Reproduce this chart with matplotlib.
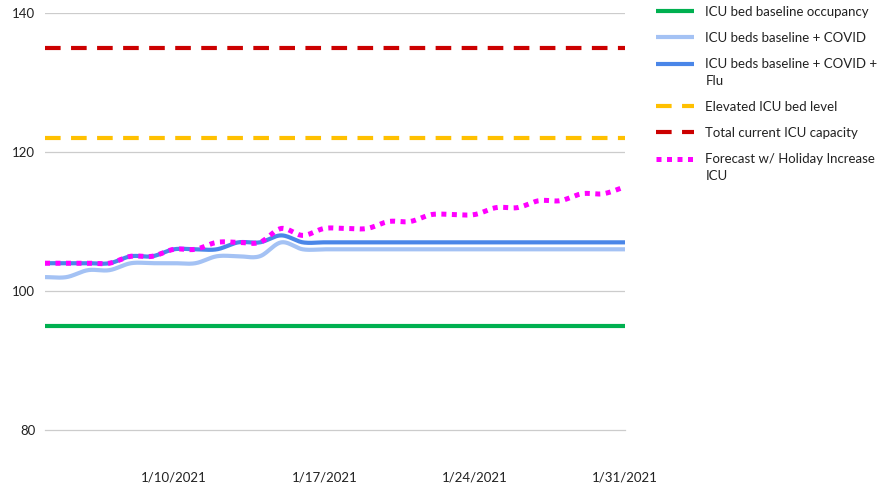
import numpy as np
import matplotlib
matplotlib.use("Agg")
import matplotlib.pyplot as plt
import matplotlib.dates as mdates
from matplotlib.legend_handler import HandlerLine2D
from datetime import date, timedelta

# ---- data ----
start = date(2021, 1, 4)
dates = [start + timedelta(days=i) for i in range(28)]  # 1/4 .. 1/31

baseline = [95] * 28
elevated = [122] * 28
capacity = [135] * 28
covid = [102, 102, 103, 103, 104, 104, 104, 104, 105, 105, 105, 107, 106, 106,
         106, 106, 106, 106, 106, 106, 106, 106, 106, 106, 106, 106, 106, 106]
covid_flu = [104, 104, 104, 104, 105, 105, 106, 106, 106, 107, 107, 108, 107, 107,
             107, 107, 107, 107, 107, 107, 107, 107, 107, 107, 107, 107, 107, 107]
forecast = [104, 104, 104, 104, 105, 105, 106, 106, 107, 107, 107, 109, 108, 109,
            109, 109, 110, 110, 111, 111, 111, 112, 112, 113, 113, 114, 114, 115]

y_ticks = [80, 100, 120, 140]
x_tick_labels = ["1/10/2021", "1/17/2021", "1/24/2021", "1/31/2021"]
x_tick_dates = [date(2021, 1, 10), date(2021, 1, 17), date(2021, 1, 24), date(2021, 1, 31)]

labels = ["ICU bed baseline occupancy", "ICU beds baseline + COVID",
          "ICU beds baseline + COVID +\nFlu", "Elevated ICU bed level",
          "Total current ICU capacity", "Forecast w/ Holiday Increase\nICU"]


def smooth(x, y, n=24):
    """Catmull-Rom style smoothing through the data points (like Excel smoothed lines)."""
    x = np.asarray(x, float); y = np.asarray(y, float)
    N = len(x)
    m = np.zeros(N)
    for k in range(N):
        a = max(k - 1, 0); b = min(k + 1, N - 1)
        m[k] = (y[b] - y[a]) / (x[b] - x[a])
    xs, ys = [], []
    for k in range(N - 1):
        h = x[k + 1] - x[k]
        t = np.linspace(0, 1, n, endpoint=False)
        h00 = 2*t**3 - 3*t**2 + 1; h10 = t**3 - 2*t**2 + t
        h01 = -2*t**3 + 3*t**2; h11 = t**3 - t**2
        xs.append(x[k] + t * h)
        ys.append(h00*y[k] + h10*h*m[k] + h01*y[k+1] + h11*h*m[k+1])
    xs.append([x[-1]]); ys.append([y[-1]])
    return np.concatenate(xs), np.concatenate(ys)


class FirstLineHandler(HandlerLine2D):
    """Place the legend handle beside the first line of a two-line label."""
    def __init__(self, shift, **kw):
        super().__init__(**kw)
        self.shift = shift

    def create_artists(self, legend, orig_handle, xdescent, ydescent, width,
                       height, fontsize, trans):
        arts = super().create_artists(legend, orig_handle, xdescent, ydescent,
                                      width, height, fontsize, trans)
        for a in arts:
            yd = np.asarray(a.get_ydata(), float)
            a.set_ydata(yd + self.shift)
        return arts


plt.rcParams['font.family'] = ['Lato', 'DejaVu Sans']

fig = plt.figure(figsize=(8.86, 4.87), dpi=100)
ax = fig.add_axes([45/886, 1 - 430/487, 580/886, 417/487])

xnum = mdates.date2num(dates)

l0, = ax.plot(dates, baseline, color="#00B050", lw=3, solid_capstyle="butt", label=labels[0])
xs, ys = smooth(xnum, covid)
l1, = ax.plot(xs, ys, color="#A4C2F4", lw=3, solid_capstyle="butt", label=labels[1])
xs, ys = smooth(xnum, covid_flu)
l2, = ax.plot(xs, ys, color="#4A86E8", lw=3, solid_capstyle="butt", label=labels[2])
l3, = ax.plot(dates, elevated, color="#FFC000", lw=3, linestyle=(0, (3.75, 2.5)),
              dash_capstyle="butt", label=labels[3])
l4, = ax.plot(dates, capacity, color="#CC0000", lw=3, linestyle=(0, (3.75, 2.5)),
              dash_capstyle="butt", label=labels[4])
xs, ys = smooth(xnum, forecast)
l5, = ax.plot(xs, ys, color="#FF00FF", lw=3.6, linestyle=(0, (1, 1.1)),
              dash_capstyle="butt", label=labels[5])

ax.set_xlim(xnum[0], xnum[-1])
ax.set_ylim(80, 140)
ax.set_yticks(y_ticks)
ax.set_xticks(mdates.date2num(x_tick_dates))
ax.set_xticklabels(x_tick_labels)
ax.grid(axis="y", color="#CCCCCC", lw=0.9)
ax.set_axisbelow(True)
for s in ax.spines.values():
    s.set_visible(False)
ax.tick_params(axis="both", length=0, labelsize=9.5, colors="#222222")
ax.tick_params(axis="y", pad=7)
ax.tick_params(axis="x", pad=30)
ax.yaxis.get_major_ticks()[0].gridline.set_clip_on(False)

hm = {l2: FirstLineHandler(6.5), l5: FirstLineHandler(6.5)}
leg = ax.legend(handles=[l0, l1, l2, l3, l4, l5], handler_map=hm,
                loc="upper left", bbox_to_anchor=(656/886, 1 - 6/487),
                bbox_transform=fig.transFigure, frameon=False, fontsize=9.5,
                handlelength=2.9, handletextpad=0.85, labelspacing=1.05,
                borderaxespad=0, borderpad=0)
for t in leg.get_texts():
    t.set_color("#222222")
    t.set_linespacing(1.55)

fig.savefig("out.png", dpi=100)
